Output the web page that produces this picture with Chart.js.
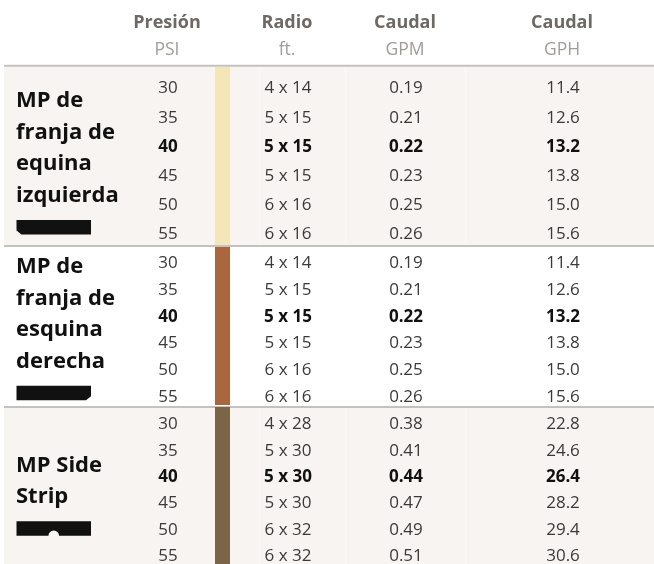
<!DOCTYPE html>
<html>
<head>
<meta charset="utf-8">
<script src="https://cdn.jsdelivr.net/npm/chart.js@4.4.1/dist/chart.umd.min.js"></script>
<style>
  html, body { margin: 0; padding: 0; background: #fff; }
  canvas { display: block; }
</style>
</head>
<body>
<canvas id="tabla" width="654" height="564"></canvas>
<script>
// column headers
const headTitles = ['Presión', 'Radio', 'Caudal', 'Caudal'];
const headUnits = ['PSI', 'ft.', 'GPM', 'GPH'];

// nozzle names (one entry per line) and strip colours
const nozzleNames = [
  ['MP de', 'franja de', 'equina', 'izquierda'],
  ['MP de', 'franja de', 'esquina', 'derecha'],
  ['MP Side', 'Strip']
];
const nozzleColors = ['#f3e6b9', '#a9663f', '#7b6549'];

const psi = [30, 35, 40, 45, 50, 55];
const boldPsi = 40;

const radioLeft = ['4 x 14', '5 x 15', '5 x 15', '5 x 15', '6 x 16', '6 x 16'];
const gpmLeft = [0.19, 0.21, 0.22, 0.23, 0.25, 0.26];
const gphLeft = [11.4, 12.6, 13.2, 13.8, 15.0, 15.6];

const radioRight = ['4 x 14', '5 x 15', '5 x 15', '5 x 15', '6 x 16', '6 x 16'];
const gpmRight = [0.19, 0.21, 0.22, 0.23, 0.25, 0.26];
const gphRight = [11.4, 12.6, 13.2, 13.8, 15.0, 15.6];

const radioSide = ['4 x 28', '5 x 30', '5 x 30', '5 x 30', '6 x 32', '6 x 32'];
const gpmSide = [0.38, 0.41, 0.44, 0.47, 0.49, 0.51];
const gphSide = [22.8, 24.6, 26.4, 28.2, 29.4, 30.6];

const sections = [
  { radio: radioLeft, gpm: gpmLeft, gph: gphLeft },
  { radio: radioRight, gpm: gpmRight, gph: gphRight },
  { radio: radioSide, gpm: gpmSide, gph: gphSide }
];

// layout (scale units = pixels)
const colX = [168, 288, 406, 563];
const stripX = [215, 230];
const secTop = [66, 246, 406];
const secBottom = [246, 406, 570];
const rowStart = [93.3, 268.3, 429.3];
const rowStep = [29.2, 26.7, 26.35];
const labelStart = [107.3, 273, 471.5];
const labelStep = 31.5;
const FONT = '"Open Sans", "DejaVu Sans", sans-serif';

const fmt = [v => String(v), v => v, v => v.toFixed(2), v => v.toFixed(1)];

// one invisible point per cell, the text is painted on it
const datasets = [];
sections.forEach((sec, s) => {
  const cols = [psi, sec.radio, sec.gpm, sec.gph];
  cols.forEach((vals, c) => {
    datasets.push({
      data: vals.map((v, i) => ({ x: colX[c], y: rowStart[s] + i * rowStep[s] })),
      texts: vals.map(v => fmt[c](v)),
      bold: psi.map(p => p === boldPsi),
      pointRadius: 0
    });
  });
});

const tablePlugin = {
  id: 'tablePlugin',
  beforeDatasetsDraw(chart) {
    const { ctx } = chart;
    const x = chart.scales.x, y = chart.scales.y;
    const px = v => x.getPixelForValue(v);
    const py = v => y.getPixelForValue(v);
    ctx.save();

    // section backgrounds
    [0, 2].forEach(s => {
      ctx.fillStyle = '#f7f4f1';
      ctx.fillRect(px(4), py(secTop[s]), px(654) - px(4), py(secBottom[s]) - py(secTop[s]));
      ctx.strokeStyle = 'rgba(255,255,255,0.45)';
      ctx.lineWidth = 1;
      [259.5, 345.5, 465.5].forEach(lx => {
        ctx.beginPath();
        ctx.moveTo(px(lx), py(secTop[s]));
        ctx.lineTo(px(lx), py(secBottom[s]));
        ctx.stroke();
      });
    });

    // horizontal rules
    ctx.strokeStyle = '#c4c2c0';
    ctx.lineWidth = 2;
    [65.8, 246, 407].forEach(ly => {
      ctx.beginPath();
      ctx.moveTo(px(4), py(ly));
      ctx.lineTo(px(654), py(ly));
      ctx.stroke();
    });

    // colour strips
    nozzleColors.forEach((col, s) => {
      ctx.fillStyle = col;
      const t = secTop[s] + 1;
      ctx.fillRect(px(stripX[0]), py(t), px(stripX[1]) - px(stripX[0]), py(secBottom[s] - (s < 2 ? 1 : 0)) - py(t));
    });

    // headers
    ctx.textAlign = 'center';
    ctx.textBaseline = 'alphabetic';
    headTitles.forEach((t, c) => {
      ctx.fillStyle = '#6e6965';
      ctx.font = 'bold 18px ' + FONT;
      ctx.fillText(t, px(colX[c] - 1), py(28));
      ctx.fillStyle = '#a19c97';
      ctx.font = '17.5px ' + FONT;
      ctx.fillText(headUnits[c], px(colX[c] - 1), py(55));
    });

    // nozzle labels and icons
    ctx.textAlign = 'left';
    nozzleNames.forEach((lines, s) => {
      ctx.fillStyle = '#111';
      ctx.font = 'bold 22px ' + FONT;
      lines.forEach((l, i) => ctx.fillText(l, px(16), py(labelStart[s] + i * labelStep)));
      const cy = labelStart[s] + (lines.length - 1) * labelStep + 25.5;
      const x0 = px(16.5), x1 = px(91), y0 = py(cy - 7.3), y1 = py(cy + 7.3);
      ctx.beginPath();
      if (s === 0) {
        ctx.moveTo(x0, y0); ctx.lineTo(x1, y0); ctx.lineTo(x1, y1);
        ctx.lineTo(x0 + 5, y1); ctx.lineTo(x0, y1 - 4);
      } else if (s === 1) {
        ctx.moveTo(x0, y0); ctx.lineTo(x1, y0); ctx.lineTo(x1, y1 - 4);
        ctx.lineTo(x1 - 5, y1); ctx.lineTo(x0, y1);
      } else {
        const cx = (x0 + x1) / 2;
        ctx.moveTo(x0, y0); ctx.lineTo(x1, y0); ctx.lineTo(x1, y1);
        ctx.lineTo(cx + 5.3, y1); ctx.arc(cx, y1, 5.3, 0, Math.PI, true);
        ctx.lineTo(x0, y1);
      }
      ctx.closePath();
      ctx.fill();
    });
    ctx.restore();
  },
  afterDatasetsDraw(chart) {
    const { ctx } = chart;
    ctx.save();
    ctx.textAlign = 'center';
    ctx.textBaseline = 'alphabetic';
    chart.data.datasets.forEach((ds, d) => {
      chart.getDatasetMeta(d).data.forEach((pt, i) => {
        ctx.font = (ds.bold[i] ? 'bold ' : '') + '17px ' + FONT;
        ctx.fillStyle = ds.bold[i] ? '#111' : '#3a3a3a';
        ctx.fillText(ds.texts[i], pt.x, pt.y);
      });
    });
    ctx.restore();
  }
};

new Chart(document.getElementById('tabla'), {
  type: 'scatter',
  data: { datasets },
  options: {
    responsive: false,
    animation: false,
    layout: { padding: 0 },
    events: [],
    plugins: { legend: { display: false }, tooltip: { enabled: false } },
    scales: {
      x: { type: 'linear', display: false, min: 0, max: 654 },
      y: { type: 'linear', display: false, min: 0, max: 564, reverse: true }
    }
  },
  plugins: [tablePlugin]
});
</script>
</body>
</html>
